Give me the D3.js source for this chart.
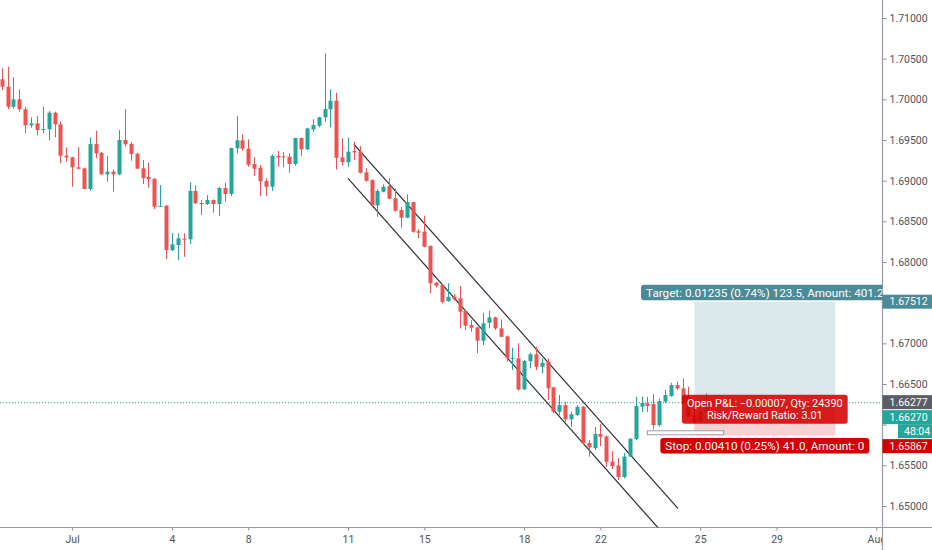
<!DOCTYPE html>
<html>
<head>
<meta charset="utf-8">
<script src="https://cdn.jsdelivr.net/npm/d3@7"></script>
<style>
  body { margin: 0; background: #fff; }
  svg { display: block; }
  text { font-family: Roboto, "Noto Sans", sans-serif; }
</style>
</head>
<body>
<div id="chart"></div>
<script>
// 4h candles, index 0..120
const opens = [1.70246,1.70155,1.69909,1.70000,1.69877,1.69680,1.69705,1.69623,1.69632,1.69835,
  1.69693,1.69307,1.69287,1.69164,1.69152,1.68897,1.69450,1.69343,1.69078,1.69110,
  1.69078,1.69500,1.69450,1.69331,1.69152,1.69045,1.69024,1.68679,1.68692,1.68147,
  1.68209,1.68286,1.68279,1.68873,1.68725,1.68713,1.68762,1.68713,1.68909,1.68836,
  1.69398,1.69496,1.69393,1.69205,1.69159,1.68995,1.68925,1.69303,1.69299,1.69294,
  1.69205,1.69524,1.69385,1.69631,1.69675,1.69779,1.69877,1.69983,1.69287,1.69227,
  1.69364,1.69356,1.69102,1.69008,1.68697,1.68864,1.68934,1.68783,1.68639,1.68544,
  1.68737,1.68378,1.68372,1.68196,1.67745,1.67717,1.67520,1.67573,1.67553,1.67397,
  1.67225,1.67197,1.67032,1.67253,1.67319,1.67184,1.67086,1.66810,1.66815,1.66434,
  1.66782,1.66865,1.66712,1.66774,1.66459,1.66159,1.66241,1.66065,1.66118,1.66220,
  1.65774,1.65712,1.65885,1.65854,1.65546,1.65497,1.65356,1.65608,1.65823,1.66223,
  1.66262,1.66253,1.65995,1.66284,1.66352,1.66487,1.66446,1.66343,1.66118,1.66044,
  1.66159];
const highs = [1.70381,1.70401,1.70271,1.70123,1.69909,1.69779,1.69795,1.69909,1.69856,1.69848,
  1.69725,1.69410,1.69294,1.69410,1.69159,1.69533,1.69614,1.69352,1.69303,1.69139,
  1.69623,1.69881,1.69479,1.69343,1.69254,1.69220,1.69029,1.68946,1.68700,1.68356,
  1.68352,1.68352,1.68979,1.68943,1.68762,1.68823,1.68770,1.68925,1.68975,1.69405,
  1.69795,1.69570,1.69508,1.69287,1.69192,1.69029,1.69324,1.69364,1.69352,1.69336,
  1.69528,1.69533,1.69651,1.69754,1.69786,1.70566,1.70123,1.70081,1.69521,1.69530,
  1.69479,1.69426,1.69152,1.69016,1.68897,1.68955,1.69029,1.68906,1.68679,1.68832,
  1.68741,1.68402,1.68569,1.68205,1.67757,1.67725,1.67738,1.67606,1.67704,1.67409,
  1.67286,1.67204,1.67376,1.67401,1.67327,1.67295,1.67098,1.66946,1.67000,1.66795,
  1.66884,1.66958,1.66815,1.66815,1.66466,1.66364,1.66282,1.66159,1.66241,1.66229,
  1.65811,1.65971,1.66008,1.65866,1.65676,1.65589,1.65651,1.65838,1.66343,1.66343,
  1.66343,1.66376,1.66323,1.66426,1.66515,1.66528,1.66569,1.66466,1.66220,1.66180,
  1.66392];
const lows = [1.70114,1.69877,1.69884,1.69848,1.69582,1.69651,1.69561,1.69582,1.69496,1.69533,
  1.69213,1.69233,1.68925,1.69139,1.68897,1.68873,1.69275,1.69069,1.68987,1.68864,
  1.69069,1.69417,1.69245,1.69143,1.68959,1.68913,1.68651,1.68676,1.68036,1.68135,
  1.68024,1.68065,1.68221,1.68713,1.68577,1.68700,1.68606,1.68565,1.68741,1.68811,
  1.69336,1.69368,1.69171,1.69057,1.68811,1.68811,1.68876,1.69171,1.69164,1.69098,
  1.69184,1.69303,1.69377,1.69602,1.69656,1.69725,1.69656,1.69139,1.69186,1.69171,
  1.69254,1.69090,1.68987,1.68672,1.68557,1.68857,1.68770,1.68618,1.68421,1.68537,
  1.68360,1.68291,1.68180,1.67615,1.67688,1.67492,1.67511,1.67524,1.67184,1.67163,
  1.67142,1.66877,1.66979,1.67184,1.67163,1.67074,1.66774,1.66672,1.66420,1.66426,
  1.66692,1.66672,1.66631,1.66303,1.66139,1.66118,1.66036,1.65974,1.66106,1.65749,
  1.65605,1.65688,1.65737,1.65482,1.65454,1.65319,1.65340,1.65602,1.65811,1.66155,
  1.66155,1.65942,1.65974,1.66262,1.66343,1.66426,1.66241,1.66094,1.66016,1.66032,
  1.66146];
const closes = [1.70155,1.69909,1.70000,1.69877,1.69680,1.69705,1.69623,1.69635,1.69835,1.69693,
  1.69307,1.69287,1.69164,1.69147,1.68897,1.69450,1.69336,1.69078,1.69110,1.69078,
  1.69500,1.69447,1.69327,1.69147,1.69032,1.69020,1.68679,1.68692,1.68147,1.68217,
  1.68291,1.68274,1.68873,1.68721,1.68716,1.68762,1.68713,1.68909,1.68836,1.69401,
  1.69496,1.69393,1.69196,1.69147,1.68992,1.68925,1.69307,1.69287,1.69287,1.69205,
  1.69524,1.69385,1.69643,1.69684,1.69779,1.69881,1.69983,1.69282,1.69229,1.69358,
  1.69348,1.69098,1.68999,1.68697,1.68873,1.68925,1.68778,1.68630,1.68544,1.68737,
  1.68372,1.68360,1.68188,1.67738,1.67708,1.67511,1.67573,1.67541,1.67388,1.67216,
  1.67192,1.67032,1.67246,1.67319,1.67184,1.67081,1.66815,1.66823,1.66434,1.66782,
  1.66865,1.66712,1.66761,1.66446,1.66159,1.66241,1.66065,1.66127,1.66220,1.65770,
  1.65721,1.65885,1.65851,1.65544,1.65491,1.65356,1.65608,1.65826,1.66229,1.66269,
  1.66229,1.65995,1.66290,1.66364,1.66487,1.66446,1.66262,1.66097,1.66036,1.66159,
  1.66270];

const dayLabels = ["Jul", "4", "8", "11", "15", "18", "22", "25", "29", "Aug"];
const dayIndex = [12, 29, 42, 59, 72, 89, 102, 119, 132, 149];
const priceTicks = [1.650, 1.655, 1.660, 1.665, 1.670, 1.675, 1.680, 1.685, 1.690, 1.695, 1.700, 1.705, 1.710];

// long position tool
const entryPrice = 1.66277, targetPrice = 1.67512, stopPrice = 1.65867;
const lastPrice = 1.66270;
const posRange = [118, 142];
const qtyBar = [110, 123];
const qtyBarPrice = 1.65925;
const targetText = "Target: 0.01235 (0.74%) 123.5, Amount: 401.2";
const stopText = "Stop: 0.00410 (0.25%) 41.0, Amount: 0";
const pnlText = ["Open P\u0026L: \u22120.00007, Qty: 24390", "Risk/Reward Ratio: 3.01"];
const countdown = "48:04";

// parallel channel [index, price]
const channelUpper = [[60, 1.69447], [115.2, 1.64971]];
const channelLower = [[59, 1.69029], [114.2, 1.64538]];

const W = 932, H = 550;
const plotR = 882.5, plotB = 527.5;
const upCol = "#26a69a", downCol = "#ef5350";

const x = d3.scaleLinear().domain([0, 120]).range([1.7, 706.1]);
const y = d3.scaleLinear().domain([1.65, 1.71]).range([506, 18]);

const svg = d3.select("#chart").append("svg")
  .attr("width", W).attr("height", H);

const defs = svg.append("defs");
defs.append("clipPath").attr("id", "plot")
  .append("rect").attr("x", 0).attr("y", 0).attr("width", plotR).attr("height", plotB);
defs.append("clipPath").attr("id", "xclip")
  .append("rect").attr("x", 0).attr("y", 0).attr("width", plotR).attr("height", H);

// price labels on the scale, stacked so they don't collide
const axisLabels = [
  { p: targetPrice, text: d3.format(".5f")(targetPrice), bg: "#4c8a98" },
  { p: entryPrice, text: d3.format(".5f")(entryPrice), bg: "#5b5e66" },
  { p: lastPrice, text: d3.format(".5f")(lastPrice), bg: upCol, sub: countdown },
  { p: stopPrice, text: d3.format(".5f")(stopPrice), bg: "#d40000" }
].sort((a, b) => y(a.p) - y(b.p));
const lh = 14;
let bottom = -Infinity;
axisLabels.forEach(l => {
  let top = y(l.p) - lh / 2;
  if (top < bottom + 1) top = bottom + 1;
  l.top = top;
  bottom = top + lh * (l.sub ? 2 : 1);
  l.bottom = bottom;
});

// axes
const yAxis = svg.append("g")
  .attr("transform", `translate(${plotR},0)`)
  .call(d3.axisRight(y).tickValues(priceTicks).tickFormat(d3.format(".5f")).tickSize(4).tickPadding(3));
yAxis.select(".domain").remove();
yAxis.selectAll("line").attr("stroke", "#8a8d96");
yAxis.selectAll("text").attr("fill", "#50535e").style("font-size", "10.5px");
// tick labels hidden behind a price label are not shown
yAxis.selectAll(".tick").filter(d => axisLabels.some(l => y(d) > l.top - 6 && y(d) < l.bottom + 6))
  .select("text").remove();

const xAxis = svg.append("g")
  .attr("transform", `translate(0,${plotB})`)
  .attr("clip-path", "url(#xclip)")
  .call(d3.axisBottom(x).tickValues(dayIndex).tickFormat((d, i) => dayLabels[i]).tickSize(3).tickPadding(5));
xAxis.select(".domain").remove();
xAxis.selectAll("line").attr("stroke", "#8a8d96");
xAxis.selectAll("text").attr("fill", "#50535e").style("font-size", "10.5px");

svg.append("line").attr("x1", 0).attr("x2", W).attr("y1", plotB).attr("y2", plotB)
  .attr("stroke", "#9a9da6").attr("stroke-width", 1.2);
svg.append("line").attr("x1", plotR).attr("x2", plotR).attr("y1", 0).attr("y2", H)
  .attr("stroke", "#9a9da6").attr("stroke-width", 1.2);

const plot = svg.append("g").attr("clip-path", "url(#plot)");

// last price dotted line
plot.append("line")
  .attr("x1", 0).attr("x2", plotR)
  .attr("y1", y(lastPrice)).attr("y2", y(lastPrice))
  .attr("stroke", upCol).attr("stroke-width", 1).attr("stroke-dasharray", "1,2");

// channel
[channelUpper, channelLower].forEach(seg => {
  plot.append("line")
    .attr("x1", x(seg[0][0])).attr("y1", y(seg[0][1]))
    .attr("x2", x(seg[1][0])).attr("y2", y(seg[1][1]))
    .attr("stroke", "#2a2e39").attr("stroke-width", 1.2);
});

// candles
const idx = d3.range(opens.length);
const candles = plot.append("g").selectAll("g").data(idx).enter().append("g");
candles.append("line")
  .attr("x1", i => Math.round(x(i)) + 0.5).attr("x2", i => Math.round(x(i)) + 0.5)
  .attr("y1", i => y(highs[i])).attr("y2", i => y(lows[i]))
  .attr("stroke", i => closes[i] >= opens[i] ? upCol : downCol)
  .attr("stroke-width", 1);
candles.append("rect")
  .attr("x", i => Math.round(x(i)) - 1.5)
  .attr("width", 4)
  .attr("y", i => y(Math.max(opens[i], closes[i])))
  .attr("height", i => Math.max(1, Math.abs(y(opens[i]) - y(closes[i]))))
  .attr("fill", i => closes[i] >= opens[i] ? upCol : downCol);

// position boxes
const px0 = x(posRange[0]), px1 = x(posRange[1]);
plot.append("rect")
  .attr("x", px0).attr("width", px1 - px0)
  .attr("y", y(targetPrice)).attr("height", y(entryPrice) - y(targetPrice))
  .attr("fill", "#9fc3cc").attr("opacity", 0.38);
plot.append("rect")
  .attr("x", px0).attr("width", px1 - px0)
  .attr("y", y(entryPrice)).attr("height", y(stopPrice) - y(entryPrice))
  .attr("fill", "#e06666").attr("opacity", 0.3);

// qty handle
plot.append("rect")
  .attr("x", x(qtyBar[0])).attr("width", x(qtyBar[1]) - x(qtyBar[0]))
  .attr("y", y(qtyBarPrice)).attr("height", 4)
  .attr("fill", "#fff").attr("stroke", "#9a9da6").attr("stroke-width", 1);

const cx = (px0 + px1) / 2;
function toolLabel(lines, top, bg, opacity, fs, lineH) {
  const g = plot.append("g");
  lines.forEach((s, k) => {
    g.append("text").attr("fill", "#fff").style("font-size", fs + "px").attr("text-anchor", "middle")
      .attr("x", cx).attr("y", top + 2 + lineH * k + lineH / 2).attr("dy", "0.35em").text(s);
  });
  let wMax = 0;
  g.selectAll("text").each(function () { wMax = Math.max(wMax, this.getComputedTextLength()); });
  g.insert("rect", "text")
    .attr("x", cx - wMax / 2 - 5).attr("width", wMax + 10)
    .attr("y", top).attr("height", lines.length * lineH + 4)
    .attr("rx", 3).attr("fill", bg).attr("opacity", opacity);
  return g;
}

toolLabel(pnlText, y(entryPrice) - 7.5, "#d40000", 0.88, 10.9, 12.6);
toolLabel([targetText], y(targetPrice) - 17, "#4c8a98", 1, 11.7, 11.5);
toolLabel([stopText], y(stopPrice) + 2.5, "#d40000", 1, 11.7, 11.5);

// price scale labels
axisLabels.forEach(l => {
  const g = svg.append("g");
  g.append("rect").attr("x", plotR).attr("width", W - plotR)
    .attr("y", l.top).attr("height", lh).attr("fill", l.bg);
  g.append("text").attr("x", plotR + 7).attr("y", l.top + lh / 2).attr("dy", "0.35em")
    .attr("fill", "#fff").style("font-size", "10.5px").text(l.text);
  if (l.sub) {
    g.append("rect").attr("x", 898).attr("width", W - 898)
      .attr("y", l.top + lh).attr("height", lh).attr("fill", l.bg);
    g.append("text").attr("x", 904).attr("y", l.top + lh * 1.5).attr("dy", "0.35em")
      .attr("fill", "#fff").style("font-size", "10.5px").text(l.sub);
  }
});
</script>
</body>
</html>
